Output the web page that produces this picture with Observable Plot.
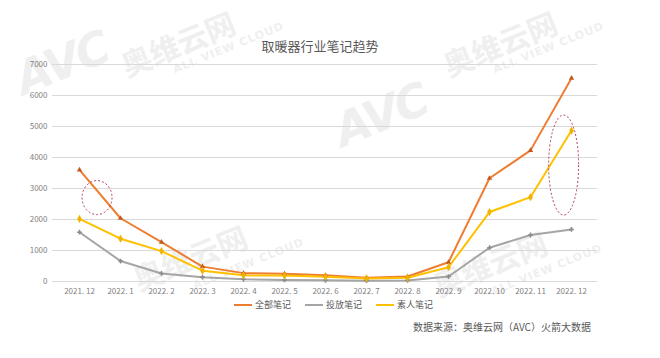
<!DOCTYPE html>
<html><head><meta charset="utf-8">
<script src="https://cdn.jsdelivr.net/npm/d3@7"></script>
<script src="https://cdn.jsdelivr.net/npm/@observablehq/plot@0.6"></script>
<style>
body{margin:0;background:#fff;font-family:"Noto Sans CJK SC","Noto Sans",sans-serif;}
#wrap{position:relative;width:660px;height:358px;overflow:hidden;}
.wm{position:absolute;color:#efefef;font-weight:bold;white-space:nowrap;transform-origin:left bottom;transform:rotate(-22deg);}
.avc{font-family:"DejaVu Sans";font-style:italic;font-size:46px;letter-spacing:-2px;line-height:46px;}
.cn{font-size:30px;line-height:32px;}
.en{font-family:"DejaVu Sans";font-size:11px;letter-spacing:1px;line-height:12px;}
#title{position:absolute;top:36px;left:0;width:640px;text-align:center;font-size:13px;color:#595959;}
#legend{position:absolute;top:298px;left:234px;font-size:9px;color:#595959;display:flex;gap:14px;}
#legend span{display:flex;align-items:center;gap:3px;}
#legend i{display:inline-block;width:18px;height:2px;}
#source{position:absolute;top:319px;left:413px;font-size:10px;color:#595959;}
svg{position:absolute;top:0;left:0;}
</style></head><body>
<div id="wrap">
  <div class="wm avc" style="left:26px;top:56px;">AVC</div>
  <div class="wm cn" style="left:128px;top:48px;">奥维云网</div>
  <div class="wm en" style="left:176px;top:64px;">ALL VIEW CLOUD</div>
  <div class="wm avc" style="left:345px;top:108px;">AVC</div>
  <div class="wm cn" style="left:450px;top:48px;">奥维云网</div>
  <div class="wm en" style="left:496px;top:64px;">ALL VIEW CLOUD</div>
  <div class="wm cn" style="left:140px;top:262px;">奥维云网</div>
  <div class="wm en" style="left:196px;top:280px;">ALL VIEW CLOUD</div>
  <div class="wm cn" style="left:440px;top:268px;">奥维云网</div>
  <div class="wm en" style="left:494px;top:286px;">ALL VIEW CLOUD</div>
  <div id="chart"></div>
  <div id="title">取暖器行业笔记趋势</div>
  <div id="legend">
    <span><i style="background:#ED7D31"></i>全部笔记</span>
    <span><i style="background:#A5A5A5"></i>投放笔记</span>
    <span><i style="background:#FFC000"></i>素人笔记</span>
  </div>
  <div id="source">数据来源：奥维云网（AVC）火箭大数据</div>
</div>
<script>
const months = ["2021. 12","2022. 1","2022. 2","2022. 3","2022. 4","2022. 5","2022. 6","2022. 7","2022. 8","2022. 9","2022. 10","2022. 11","2022. 12"];
const seriesNames = ["全部笔记","投放笔记","素人笔记"];
const seriesColors = ["#ED7D31","#A5A5A5","#FFC000"];
const totalNotes = [3600,2040,1270,480,270,250,200,120,160,620,3330,4230,6560];
const paidNotes  = [1590,660,260,140,70,50,40,25,35,160,1090,1500,1680];
const organicNotes = [2020,1380,980,350,200,190,150,100,120,460,2240,2720,4870];
const yTicks = [0,1000,2000,3000,4000,5000,6000,7000];
// annotation ellipses: center category + fraction of step, center value, radii (px)
const ellipses = [
  {month:"2021. 12", frac:0.44, value:2690, rx:15, ry:17},
  {month:"2022. 12", frac:-0.18, value:3740, rx:15, ry:50}
];

const rows = [];
[totalNotes, paidNotes, organicNotes].forEach((arr, si) => {
  arr.forEach((v, i) => rows.push({month: months[i], value: v, series: seriesNames[si]}));
});

const chart = Plot.plot({
  width: 660, height: 358,
  marginLeft: 52, marginRight: 63, marginTop: 64, marginBottom: 77,
  style: {background: "transparent", fontFamily: "Noto Sans CJK SC, sans-serif", color: "#595959"},
  x: {type: "point", domain: months, padding: 0.5, label: null, tickSize: 0, tickPadding: 7},
  y: {domain: [0, 7000], ticks: yTicks, label: null, tickSize: 0, tickPadding: 5, tickFormat: d3.format("d")},
  color: {domain: seriesNames, range: seriesColors},
  marks: [
    Plot.ruleY(yTicks, {stroke: "#D9D9D9"}),
    Plot.axisY({ticks: yTicks, tickSize: 0, tickPadding: 5, fontSize: 8, fill: "#7f7f7f", label: null, tickFormat: d3.format("d")}),
    Plot.axisX({tickSize: 0, tickPadding: 7, fontSize: 8, fill: "#7f7f7f", label: null}),
    Plot.line(rows, {x: "month", y: "value", z: "series", stroke: "series", strokeWidth: 2}),
    Plot.dot(rows.filter(d => d.series === "全部笔记"), {x: "month", y: "value", symbol: "triangle", r: 2, fill: "#C05A20"}),
    Plot.dot(rows.filter(d => d.series === "投放笔记"), {x: "month", y: "value", symbol: "cross", r: 2, fill: "#8a8a8a"}),
    Plot.dot(rows.filter(d => d.series === "素人笔记"), {x: "month", y: "value", symbol: "diamond", r: 2.5, fill: "#F0B400"}),
    Plot.dot(ellipses, {x: "month", y: "value", render: (index, scales, values, dims, context) => {
      const g = d3.create("svg:g");
      const step = scales.x.step ? scales.x.step() : 41.9;
      for (const i of index) {
        const e = ellipses[i];
        g.append("ellipse")
          .attr("cx", scales.x(e.month) + e.frac * step)
          .attr("cy", scales.y(e.value))
          .attr("rx", e.rx).attr("ry", e.ry)
          .attr("fill", "none").attr("stroke", "#B0405A")
          .attr("stroke-width", 1).attr("stroke-dasharray", "2,2");
      }
      return g.node();
    }})
  ]
});
document.getElementById("chart").appendChild(chart);
</script>
</body></html>
